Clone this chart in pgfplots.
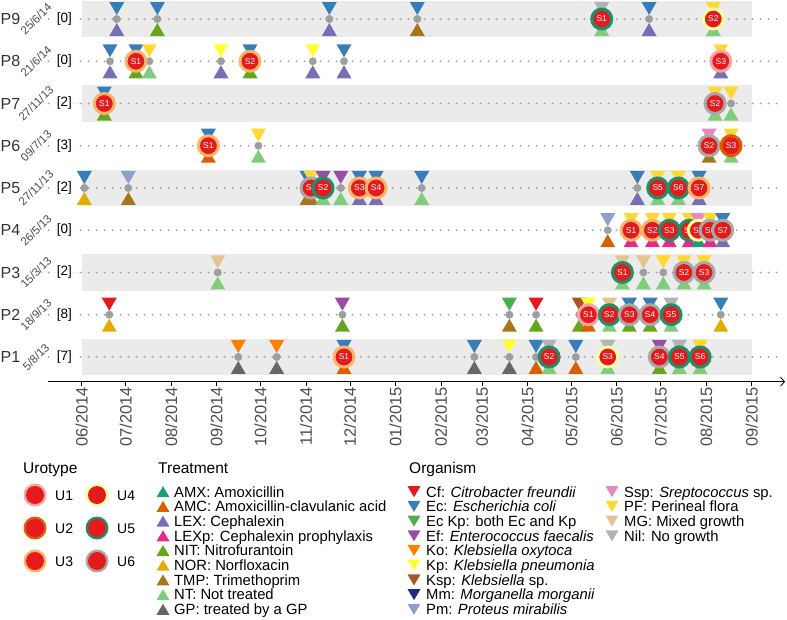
\documentclass[border=0pt]{standalone}
\usepackage{pgfplots}
\pgfplotsset{compat=1.18}
\usepackage{pgfplotstable}
\usepackage{fontspec}
\setmainfont{Liberation Sans}
\usetikzlibrary{arrows.meta}

% organism colours
\definecolor{cCf}{HTML}{E41A1C}
\definecolor{cEc}{HTML}{377EB8}
\definecolor{cEcKp}{HTML}{4DAF4A}
\definecolor{cEf}{HTML}{984EA3}
\definecolor{cKo}{HTML}{FF7F00}
\definecolor{cKp}{HTML}{FFFF33}
\definecolor{cKsp}{HTML}{A65628}
\definecolor{cMm}{HTML}{1F2A86}
\definecolor{cPm}{HTML}{8DA0CB}
\definecolor{cSsp}{HTML}{E78AC3}
\definecolor{cPF}{HTML}{FFD92F}
\definecolor{cMG}{HTML}{E5C494}
\definecolor{cNil}{HTML}{B3B3B3}
% treatment colours
\definecolor{tAMX}{HTML}{1B9E77}
\definecolor{tAMC}{HTML}{D95F02}
\definecolor{tLEX}{HTML}{7570B3}
\definecolor{tLEXp}{HTML}{E7298A}
\definecolor{tNIT}{HTML}{66A61E}
\definecolor{tNOR}{HTML}{E6AB02}
\definecolor{tTMP}{HTML}{A6761D}
\definecolor{tNT}{HTML}{7FCC7A}
\definecolor{tGP}{HTML}{666666}
% urotype rings
\definecolor{uU1}{HTML}{F6A3A1}
\definecolor{uU2}{HTML}{D95F02}
\definecolor{uU3}{HTML}{FBB56A}
\definecolor{uU4}{HTML}{FFFF9C}
\definecolor{uU5}{HTML}{1E8F6A}
\definecolor{uU6}{HTML}{A8A8A8}
\definecolor{cRed}{HTML}{E41A1C}
\definecolor{bandc}{HTML}{EBEBEB}
\definecolor{dotc}{HTML}{9E9E9E}
\definecolor{tickc}{HTML}{4D4D4D}
\definecolor{labc}{HTML}{333333}

\pgfdeclareplotmark{odown}{%
  \pgfpathmoveto{\pgfqpoint{-7.5pt}{17pt}}%
  \pgfpathlineto{\pgfqpoint{7.5pt}{17pt}}%
  \pgfpathlineto{\pgfqpoint{0pt}{4pt}}%
  \pgfpathclose\pgfusepathqfill}
\pgfdeclareplotmark{tup}{%
  \pgfpathmoveto{\pgfqpoint{-7.5pt}{-17pt}}%
  \pgfpathlineto{\pgfqpoint{7.5pt}{-17pt}}%
  \pgfpathlineto{\pgfqpoint{0pt}{-4pt}}%
  \pgfpathclose\pgfusepathqfill}
\pgfdeclareplotmark{ldown}{%
  \pgfpathmoveto{\pgfqpoint{-6.5pt}{5.5pt}}%
  \pgfpathlineto{\pgfqpoint{6.5pt}{5.5pt}}%
  \pgfpathlineto{\pgfqpoint{0pt}{-5.5pt}}%
  \pgfpathclose\pgfusepathqfill}
\pgfdeclareplotmark{lup}{%
  \pgfpathmoveto{\pgfqpoint{-6.5pt}{-5.5pt}}%
  \pgfpathlineto{\pgfqpoint{6.5pt}{-5.5pt}}%
  \pgfpathlineto{\pgfqpoint{0pt}{5.5pt}}%
  \pgfpathclose\pgfusepathqfill}
\pgfdeclareplotmark{urol}{%
  \pgfpathcircle{\pgfpointorigin}{11.5pt}\pgfusepathqfill
  \pgfsetfillcolor{cRed}%
  \pgfpathcircle{\pgfpointorigin}{9pt}\pgfusepathqfill}

\pgfplotsset{
  orgcl/.style={scatter/classes={Cf={color=cCf},Ec={color=cEc},EcKp={color=cEcKp},Ef={color=cEf},Ko={color=cKo},Kp={color=cKp},Ksp={color=cKsp},Mm={color=cMm},Pm={color=cPm},Ssp={color=cSsp},PF={color=cPF},MG={color=cMG},Nil={color=cNil}}},
  trtcl/.style={scatter/classes={AMX={color=tAMX},AMC={color=tAMC},LEX={color=tLEX},LEXp={color=tLEXp},NIT={color=tNIT},NOR={color=tNOR},TMP={color=tTMP},NT={color=tNT},GP={color=tGP}}},
  urocl/.style={scatter/classes={uU1={color=uU1},uU2={color=uU2},uU3={color=uU3},uU4={color=uU4},uU5={color=uU5},uU6={color=uU6}}},
  uro/.style 2 args={only marks, mark=*, mark size=0.5pt, color=cRed,
    nodes near coords={#2}, nodes near coords align={center},
    every node near coord/.append style={circle, fill=cRed, draw=#1, line width=3pt,
      minimum size=20pt, inner sep=0pt, text=white, font=\fontsize{8.5}{9}\selectfont, anchor=center}},
}

\newcommand\lgfont{\fontsize{14.8}{16}\selectfont}
\newcommand\ttfont{\fontsize{15.5}{17}\selectfont}

% x = days since 1 June 2014, y = patient row
\pgfplotstableread{
x y org trt
23.9 9 Ec LEX
51.6 9 Ec NIT
168.9 9 Ec LEX
228.9 9 Ec TMP
354.7 9 Nil NT
387.0 9 Ec LEX
430.8 9 PF NT
19.3 8 Ec LEX
37.0 8 Ec NIT
46.1 8 PF NT
95.0 8 Kp LEX
114.8 8 Ec NIT
157.6 8 Kp LEX
178.9 8 Ec LEX
435.9 8 PF LEX
15.4 7 Ec NIT
432.0 7 PF NT
442.9 7 PF NT
86.4 6 Ec AMC
120.5 6 PF NT
427.9 6 Ssp TMP
442.9 6 PF NT
1.8 5 Ec NOR
31.8 5 Pm TMP
153.7 5 Ec TMP
156.4 5 PF TMP
164.6 5 Ef NT
176.7 5 Ef NT
189.4 5 Ec LEX
200.8 5 Ec LEX
231.9 5 Ec NT
379.0 5 Ec LEX
392.9 5 PF NT
407.0 5 PF NT
421.1 5 Ec LEX
358.8 4 Pm AMC
374.7 4 PF LEXp
389.2 4 PF LEXp
400.8 4 PF LEXp
414.4 4 PF LEXp
420.6 4 Ssp AMX
428.6 4 PF LEXp
437.2 4 Ec LEX
92.8 3 MG NT
368.8 3 MG NT
383.1 3 MG NT
396.7 3 PF NT
410.8 3 PF NT
424.5 3 PF NT
18.8 2 Cf NOR
177.8 2 Ef NIT
291.7 2 EcKp TMP
309.9 2 Cf NIT
339.4 2 Ksp NIT
345.6 2 Kp AMC
359.9 2 MG NT
373.5 2 Ec NIT
387.7 2 Ec NIT
402.0 2 Nil NT
435.9 2 Ec NOR
106.8 1 Ko GP
133.0 1 Ko GP
178.9 1 Ec AMC
267.8 1 Ec GP
291.7 1 Kp GP
309.9 1 Ec AMC
318.8 1 Nil NT
337.0 1 Ec AMC
358.8 1 Nil NT
394.0 1 Ef NIT
407.6 1 Nil NT
421.8 1 PF NT
}\ev

% legend tables (picture pixel coordinates)
\pgfplotstableread{
x y c
35 495 uU1
35 528 uU2
35 561 uU3
97 495 uU4
97 528 uU5
97 561 uU6
}\uleg
\pgfplotstableread{
x y c
163 491.7 AMX
163 506.4 AMC
163 521.1 LEX
163 535.8 LEXp
163 550.5 NIT
163 565.2 NOR
163 579.9 TMP
163 594.6 NT
163 609.3 GP
}\tleg
\pgfplotstableread{
x y c
414 491.7 Cf
414 506.4 Ec
414 521.1 EcKp
414 535.8 Ef
414 550.5 Ko
414 565.2 Kp
414 579.9 Ksp
414 594.6 Mm
414 609.3 Pm
612 491.7 Ssp
612 506.4 PF
612 521.1 MG
612 535.8 Nil
}\oleg

\begin{document}
\begin{tikzpicture}
\useasboundingbox (0,0) rectangle (787pt,619pt);
\begin{axis}[
  at={(47.7pt,237.3pt)}, anchor=south west,
  width=737.3pt, height=381.7pt, scale only axis,
  xmin=-23.2, xmax=479.7, ymin=0.415, ymax=9.45,
  axis x line=bottom, axis y line=none,
  x axis line style={line width=0.8pt, -{Straight Barb[length=4pt,width=9pt]}},
  xtick={0,30,61,92,122,153,183,214,245,273,304,334,365,395,426,457},
  xticklabels={06/2014,07/2014,08/2014,09/2014,10/2014,11/2014,12/2014,01/2015,02/2015,03/2015,04/2015,05/2015,06/2015,07/2015,08/2015,09/2015},
  tick align=outside, major tick length=4pt,
  xtick style={line width=0.8pt, black},
  xticklabel style={rotate=90, anchor=east, font=\fontsize{16.5}{18}\selectfont, text=tickc, inner sep=1pt},
  clip=false,
]
% shaded bands
\addplot[fill=bandc, draw=none] coordinates {(0,0.565)(457,0.565)(457,1.435)(0,1.435)} -- cycle;
\addplot[fill=bandc, draw=none] coordinates {(0,2.565)(457,2.565)(457,3.435)(0,3.435)} -- cycle;
\addplot[fill=bandc, draw=none] coordinates {(0,4.565)(457,4.565)(457,5.435)(0,5.435)} -- cycle;
\addplot[fill=bandc, draw=none] coordinates {(0,6.565)(457,6.565)(457,7.435)(0,7.435)} -- cycle;
\addplot[fill=bandc, draw=none] coordinates {(0,8.565)(457,8.565)(457,9.435)(0,9.435)} -- cycle;
% dotted row lines
\addplot[dotc, line width=2pt, line cap=round, dash pattern=on 0pt off 8pt] coordinates {(-22.5,1)(477,1)};
\addplot[dotc, line width=2pt, line cap=round, dash pattern=on 0pt off 8pt] coordinates {(-22.5,2)(477,2)};
\addplot[dotc, line width=2pt, line cap=round, dash pattern=on 0pt off 8pt] coordinates {(-22.5,3)(477,3)};
\addplot[dotc, line width=2pt, line cap=round, dash pattern=on 0pt off 8pt] coordinates {(-22.5,4)(477,4)};
\addplot[dotc, line width=2pt, line cap=round, dash pattern=on 0pt off 8pt] coordinates {(-22.5,5)(477,5)};
\addplot[dotc, line width=2pt, line cap=round, dash pattern=on 0pt off 8pt] coordinates {(-22.5,6)(477,6)};
\addplot[dotc, line width=2pt, line cap=round, dash pattern=on 0pt off 8pt] coordinates {(-22.5,7)(477,7)};
\addplot[dotc, line width=2pt, line cap=round, dash pattern=on 0pt off 8pt] coordinates {(-22.5,8)(477,8)};
\addplot[dotc, line width=2pt, line cap=round, dash pattern=on 0pt off 8pt] coordinates {(-22.5,9)(477,9)};
% organism (down) and treatment (up) triangles
\addplot[scatter, only marks, mark=odown, scatter src=explicit symbolic, orgcl] table[x=x,y=y,meta=org]{\ev};
\addplot[scatter, only marks, mark=tup, scatter src=explicit symbolic, trtcl] table[x=x,y=y,meta=trt]{\ev};
% sample dots
\addplot[only marks, mark=*, mark size=3.7pt, color=dotc] table[x=x,y=y]{\ev};
% urotype circles with sample labels (in date order)
\addplot[uro={uU5}{S1}] coordinates {(354.7,9)};
\addplot[uro={uU4}{S2}] coordinates {(430.8,9)};
\addplot[uro={uU3}{S1}] coordinates {(37.0,8)};
\addplot[uro={uU3}{S2}] coordinates {(114.8,8)};
\addplot[uro={uU1}{S3}] coordinates {(435.9,8)};
\addplot[uro={uU3}{S1}] coordinates {(15.4,7)};
\addplot[uro={uU6}{S2}] coordinates {(432.0,7)};
\addplot[uro={uU3}{S1}] coordinates {(86.4,6)};
\addplot[uro={uU6}{S2}] coordinates {(427.9,6)};
\addplot[uro={uU2}{S3}] coordinates {(442.9,6)};
\addplot[uro={uU6}{S1}] coordinates {(156.4,5)};
\addplot[uro={uU5}{S2}] coordinates {(164.6,5)};
\addplot[uro={uU3}{S3}] coordinates {(189.4,5)};
\addplot[uro={uU3}{S4}] coordinates {(200.8,5)};
\addplot[uro={uU5}{S5}] coordinates {(392.9,5)};
\addplot[uro={uU5}{S6}] coordinates {(407.0,5)};
\addplot[uro={uU3}{S7}] coordinates {(421.1,5)};
\addplot[uro={uU3}{S1}] coordinates {(374.7,4)};
\addplot[uro={uU3}{S2}] coordinates {(389.2,4)};
\addplot[uro={uU5}{S3}] coordinates {(400.8,4)};
\addplot[uro={uU5}{S4}] coordinates {(414.4,4)};
\addplot[uro={uU4}{S5}] coordinates {(420.6,4)};
\addplot[uro={uU6}{S6}] coordinates {(428.6,4)};
\addplot[uro={uU6}{S7}] coordinates {(437.2,4)};
\addplot[uro={uU5}{S1}] coordinates {(368.8,3)};
\addplot[uro={uU6}{S2}] coordinates {(410.8,3)};
\addplot[uro={uU6}{S3}] coordinates {(424.5,3)};
\addplot[uro={uU1}{S1}] coordinates {(345.6,2)};
\addplot[uro={uU5}{S2}] coordinates {(359.9,2)};
\addplot[uro={uU6}{S3}] coordinates {(373.5,2)};
\addplot[uro={uU6}{S4}] coordinates {(387.7,2)};
\addplot[uro={uU5}{S5}] coordinates {(402.0,2)};
\addplot[uro={uU3}{S1}] coordinates {(178.9,1)};
\addplot[uro={uU5}{S2}] coordinates {(318.8,1)};
\addplot[uro={uU4}{S3}] coordinates {(358.8,1)};
\addplot[uro={uU6}{S4}] coordinates {(394.0,1)};
\addplot[uro={uU5}{S5}] coordinates {(407.6,1)};
\addplot[uro={uU5}{S6}] coordinates {(421.8,1)};
\end{axis}

\begin{axis}[
  at={(0pt,0pt)}, anchor=south west,
  width=787pt, height=619pt, scale only axis,
  xmin=0, xmax=787, ymin=0, ymax=619, y dir=reverse,
  hide axis, clip=false,
]
% row labels
\node[anchor=base west, inner sep=0pt, font=\fontsize{16}{18}\selectfont, text=labc] at (axis cs:0.5,24.7) {P9};
\node[anchor=base west, inner sep=0pt, font=\fontsize{16}{18}\selectfont, text=labc] at (axis cs:0.5,66.95) {P8};
\node[anchor=base west, inner sep=0pt, font=\fontsize{16}{18}\selectfont, text=labc] at (axis cs:0.5,109.2) {P7};
\node[anchor=base west, inner sep=0pt, font=\fontsize{16}{18}\selectfont, text=labc] at (axis cs:0.5,151.45) {P6};
\node[anchor=base west, inner sep=0pt, font=\fontsize{16}{18}\selectfont, text=labc] at (axis cs:0.5,193.7) {P5};
\node[anchor=base west, inner sep=0pt, font=\fontsize{16}{18}\selectfont, text=labc] at (axis cs:0.5,235.95) {P4};
\node[anchor=base west, inner sep=0pt, font=\fontsize{16}{18}\selectfont, text=labc] at (axis cs:0.5,278.2) {P3};
\node[anchor=base west, inner sep=0pt, font=\fontsize{16}{18}\selectfont, text=labc] at (axis cs:0.5,320.45) {P2};
\node[anchor=base west, inner sep=0pt, font=\fontsize{16}{18}\selectfont, text=labc] at (axis cs:0.5,362.7) {P1};
% dates
\node[rotate=45, inner sep=0pt, font=\fontsize{11.5}{12}\selectfont, text=tickc] at (axis cs:36,19) {25/6/14};
\node[rotate=45, inner sep=0pt, font=\fontsize{11.5}{12}\selectfont, text=tickc] at (axis cs:36,61.25) {21/6/14};
\node[rotate=45, inner sep=0pt, font=\fontsize{11.5}{12}\selectfont, text=tickc] at (axis cs:36,103.5) {27/11/13};
\node[rotate=45, inner sep=0pt, font=\fontsize{11.5}{12}\selectfont, text=tickc] at (axis cs:36,145.75) {09/7/13};
\node[rotate=45, inner sep=0pt, font=\fontsize{11.5}{12}\selectfont, text=tickc] at (axis cs:36,188) {27/11/13};
\node[rotate=45, inner sep=0pt, font=\fontsize{11.5}{12}\selectfont, text=tickc] at (axis cs:36,230.25) {26/5/13};
\node[rotate=45, inner sep=0pt, font=\fontsize{11.5}{12}\selectfont, text=tickc] at (axis cs:36,272.5) {15/3/13};
\node[rotate=45, inner sep=0pt, font=\fontsize{11.5}{12}\selectfont, text=tickc] at (axis cs:36,314.75) {18/9/13};
\node[rotate=45, inner sep=0pt, font=\fontsize{11.5}{12}\selectfont, text=tickc] at (axis cs:36,357) {5/8/13};
% bracket counts
\node[fill=white, inner sep=1pt, font=\fontsize{13.5}{15}\selectfont] at (axis cs:64.3,19) {[0]};
\node[fill=white, inner sep=1pt, font=\fontsize{13.5}{15}\selectfont] at (axis cs:64.3,61.25) {[0]};
\node[fill=white, inner sep=1pt, font=\fontsize{13.5}{15}\selectfont] at (axis cs:64.3,103.5) {[2]};
\node[fill=white, inner sep=1pt, font=\fontsize{13.5}{15}\selectfont] at (axis cs:64.3,145.75) {[3]};
\node[fill=white, inner sep=1pt, font=\fontsize{13.5}{15}\selectfont] at (axis cs:64.3,188) {[2]};
\node[fill=white, inner sep=1pt, font=\fontsize{13.5}{15}\selectfont] at (axis cs:64.3,230.25) {[0]};
\node[fill=white, inner sep=1pt, font=\fontsize{13.5}{15}\selectfont] at (axis cs:64.3,272.5) {[2]};
\node[fill=white, inner sep=1pt, font=\fontsize{13.5}{15}\selectfont] at (axis cs:64.3,314.75) {[8]};
\node[fill=white, inner sep=1pt, font=\fontsize{13.5}{15}\selectfont] at (axis cs:64.3,357) {[7]};

% legend titles
\node[anchor=base west, inner sep=0pt, font=\ttfont] at (axis cs:23,473.5) {Urotype};
\node[anchor=base west, inner sep=0pt, font=\ttfont] at (axis cs:158,473.5) {Treatment};
\node[anchor=base west, inner sep=0pt, font=\ttfont] at (axis cs:409,473.5) {Organism};

% legend markers
\addplot[scatter, only marks, mark=urol, scatter src=explicit symbolic, urocl] table[x=x,y=y,meta=c]{\uleg};
\addplot[scatter, only marks, mark=lup, scatter src=explicit symbolic, trtcl] table[x=x,y=y,meta=c]{\tleg};
\addplot[scatter, only marks, mark=ldown, scatter src=explicit symbolic, orgcl] table[x=x,y=y,meta=c]{\oleg};

% urotype labels
\node[anchor=base west, inner sep=0pt, font=\fontsize{14}{16}\selectfont] at (axis cs:55,500) {U1};
\node[anchor=base west, inner sep=0pt, font=\fontsize{14}{16}\selectfont] at (axis cs:55,533) {U2};
\node[anchor=base west, inner sep=0pt, font=\fontsize{14}{16}\selectfont] at (axis cs:55,566) {U3};
\node[anchor=base west, inner sep=0pt, font=\fontsize{14}{16}\selectfont] at (axis cs:117,500) {U4};
\node[anchor=base west, inner sep=0pt, font=\fontsize{14}{16}\selectfont] at (axis cs:117,533) {U5};
\node[anchor=base west, inner sep=0pt, font=\fontsize{14}{16}\selectfont] at (axis cs:117,566) {U6};

% treatment labels
\node[anchor=base west, inner sep=0pt, font=\lgfont] at (axis cs:174,497.0) {AMX: Amoxicillin};
\node[anchor=base west, inner sep=0pt, font=\lgfont] at (axis cs:174,511.7) {AMC: Amoxicillin-clavulanic acid};
\node[anchor=base west, inner sep=0pt, font=\lgfont] at (axis cs:174,526.4) {LEX: Cephalexin};
\node[anchor=base west, inner sep=0pt, font=\lgfont] at (axis cs:174,541.1) {LEXp: Cephalexin prophylaxis};
\node[anchor=base west, inner sep=0pt, font=\lgfont] at (axis cs:174,555.8) {NIT: Nitrofurantoin};
\node[anchor=base west, inner sep=0pt, font=\lgfont] at (axis cs:174,570.5) {NOR: Norfloxacin};
\node[anchor=base west, inner sep=0pt, font=\lgfont] at (axis cs:174,585.2) {TMP: Trimethoprim};
\node[anchor=base west, inner sep=0pt, font=\lgfont] at (axis cs:174,599.9) {NT: Not treated};
\node[anchor=base west, inner sep=0pt, font=\lgfont] at (axis cs:174,614.6) {GP: treated by a GP};

% organism labels
\node[anchor=base west, inner sep=0pt, font=\lgfont] at (axis cs:426,497.0) {Cf: \textit{Citrobacter freundii}};
\node[anchor=base west, inner sep=0pt, font=\lgfont] at (axis cs:426,511.7) {Ec: \textit{Escherichia coli}};
\node[anchor=base west, inner sep=0pt, font=\lgfont] at (axis cs:426,526.4) {Ec Kp: both Ec and Kp};
\node[anchor=base west, inner sep=0pt, font=\lgfont] at (axis cs:426,541.1) {Ef: \textit{Enterococcus faecalis}};
\node[anchor=base west, inner sep=0pt, font=\lgfont] at (axis cs:426,555.8) {Ko: \textit{Klebsiella oxytoca}};
\node[anchor=base west, inner sep=0pt, font=\lgfont] at (axis cs:426,570.5) {Kp: \textit{Klebsiella pneumonia}};
\node[anchor=base west, inner sep=0pt, font=\lgfont] at (axis cs:426,585.2) {Ksp: \textit{Klebsiella} sp.};
\node[anchor=base west, inner sep=0pt, font=\lgfont] at (axis cs:426,599.9) {Mm: \textit{Morganella morganii}};
\node[anchor=base west, inner sep=0pt, font=\lgfont] at (axis cs:426,614.6) {Pm: \textit{Proteus mirabilis}};
\node[anchor=base west, inner sep=0pt, font=\lgfont] at (axis cs:624,497.0) {Ssp: \textit{Sreptococcus} sp.};
\node[anchor=base west, inner sep=0pt, font=\lgfont] at (axis cs:624,511.7) {PF: Perineal flora};
\node[anchor=base west, inner sep=0pt, font=\lgfont] at (axis cs:624,526.4) {MG: Mixed growth};
\node[anchor=base west, inner sep=0pt, font=\lgfont] at (axis cs:624,541.1) {Nil: No growth};
\end{axis}
\end{tikzpicture}
\end{document}
